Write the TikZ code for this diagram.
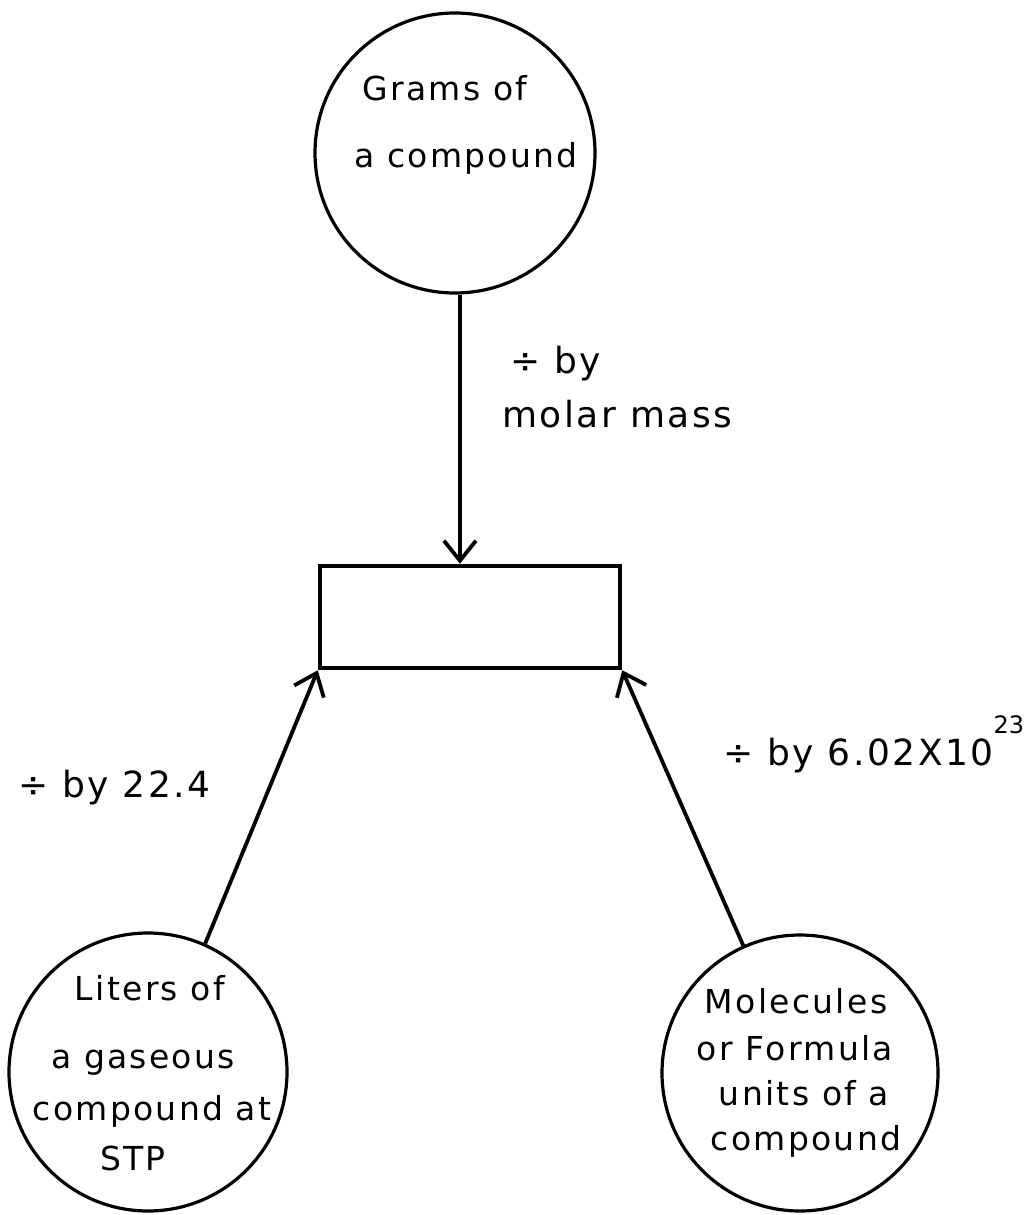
\documentclass[tikz,border=0pt]{standalone}
\usepackage{fontspec}
\setmainfont{DejaVu Sans}
\newfontfamily\handfont[LetterSpace=7]{DejaVu Sans}
\usetikzlibrary{arrows.meta}
\begin{document}
\begin{tikzpicture}[x=1pt,y=-1pt,
  bubble/.style={circle,draw,line width=3.2pt,inner sep=0pt,minimum size=#1},
  ctext/.style={anchor=base,inner sep=0pt,font=\handfont\fontsize{33}{36}\selectfont},
  ltext/.style={anchor=base west,inner sep=0pt,font=\handfont\fontsize{36}{40}\selectfont},
  conv/.style={line width=3.8pt,-{Straight Barb[length=20pt,width=32pt,line width=3.8pt]}}]
\useasboundingbox (0,0) rectangle (1035,1215);
% nodes
\node[bubble=280pt] (grams) at (455,153) {};
\node[bubble=278pt] (liters) at (148,1072) {};
\node[bubble=276pt] (molec) at (800,1073) {};
\node[draw,line width=4.5pt,minimum width=300pt,minimum height=102pt,inner sep=0pt] (moles) at (470,617) {};
% circle texts
\node[ctext] (g1) at (445,100) {Grams of};
\node[ctext] (g2) at (466,167) {a compound};
\node[ctext] (l1) at (150,1000) {Liters of};
\node[ctext] (l2) at (143,1068) {a gaseous};
\node[ctext] (l3) at (152,1120) {compound at};
\node[ctext] (l4) at (133,1170) {STP};
\node[ctext] (m1) at (796,1013) {Molecules};
\node[ctext] (m2) at (795,1060) {or Formula};
\node[ctext] (m3) at (804,1105) {units of a};
\node[ctext] (m4) at (806,1150) {compound};
% connectors
\draw[conv] (grams.272) -- (grams.272 |- moles.north);
\draw[conv] (liters.66) -- (moles.south west);
\draw[conv] (molec.114) -- (moles.south east);
% labels
\node[ltext] (lab1) at (510,373) {÷ by};
\node[ltext] (lab2) at (502,427) {molar mass};
\node[ltext] (lab3) at (18,797) {÷ by 22.4};
\node[ltext] (lab4) at (723,765) {÷ by 6.02X10\raisebox{32pt}{\normalfont\fontsize{24}{24}\selectfont 23}};
\end{tikzpicture}
\end{document}
